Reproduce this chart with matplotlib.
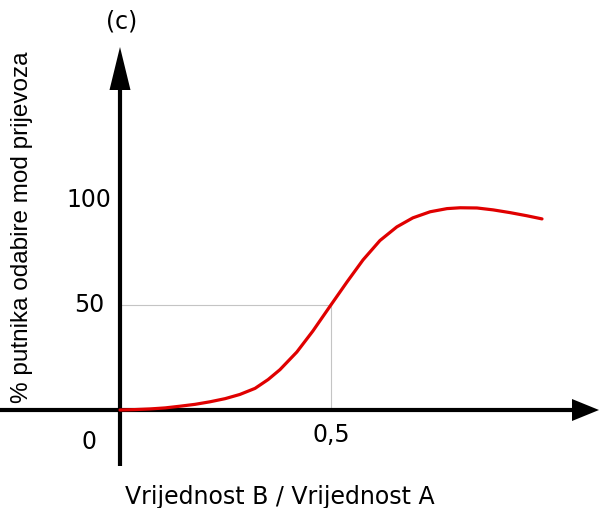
import numpy as np
import matplotlib
matplotlib.use("Agg")
import matplotlib.pyplot as plt
from matplotlib.transforms import Affine2D

# podaci ocitani sa slike (omjer B/A, % putnika)
omjer = [0.0, 0.036, 0.071, 0.107, 0.142, 0.178, 0.213, 0.249, 0.284, 0.320,
         0.351, 0.379, 0.419, 0.457, 0.498, 0.538, 0.576, 0.616, 0.656, 0.694,
         0.735, 0.775, 0.806, 0.846, 0.884, 0.924, 0.964, 1.0]
postotak = [0, 0.2, 0.5, 1.0, 1.8, 2.7, 3.9, 5.4, 7.4, 10.3,
            14.5, 19.2, 27.6, 37.6, 49.5, 61.0, 71.5, 80.7, 87.2, 91.5,
            94.4, 95.9, 96.3, 96.2, 95.3, 94.0, 92.5, 91.0]
y_ticks = [0, 50, 100]
y_labels = ["0", "50", "100"]
x_tick = 0.5
x_tick_label = "0,5"

W, H = 600, 508
fig = plt.figure(figsize=(6, 5.08), dpi=100)
ax = fig.add_axes([0, 0, 1, 1])
# 0 na pikselu (120, 410); 0,5 -> 422 px po jedinici, 50 -> 105 px
x0, y0, sx, sy = 120, 410, 422, 2.1
ax.set_xlim(-x0 / sx, (W - x0) / sx)
ax.set_ylim(-(H - y0) / sy, y0 / sy)
ax.axis("off")

# piksel koordinate za osi i tekst
pix = Affine2D().scale(1 / W, -1 / H).translate(0, 1) + fig.transFigure

# pomocne sive linije
ax.plot([0, x_tick], [50, 50], color="#c4c4c4", lw=0.8, zorder=1)
ax.plot([x_tick, x_tick], [0, 50], color="#c4c4c4", lw=0.8, zorder=1)

# osi sa strelicama
ax.plot([0, 573], [y0, y0], color="black", lw=3, transform=pix, solid_capstyle="butt")
ax.plot([x0, x0], [466, 89], color="black", lw=3, transform=pix, solid_capstyle="butt")
ax.fill([572, 599, 572], [399, y0, 421], color="black", transform=pix, lw=0)
ax.fill([x0 - 10.5, x0, x0 + 10.5], [90, 47, 90], color="black", transform=pix, lw=0)

# krivulja
ax.plot(omjer, postotak, color="#e00000", lw=2.3, solid_joinstyle="round",
        solid_capstyle="round", zorder=3)

fs = 17
for v, lab in zip(y_ticks, y_labels):
    py = y0 - v * sy + (32 if v == 0 else 0)
    ax.text(89, py, lab, transform=pix, ha="center", va="center", fontsize=fs,
            family="DejaVu Sans")
ax.text(x0 + x_tick * sx, 435, x_tick_label, transform=pix, ha="center", va="center",
        fontsize=fs, family="DejaVu Sans")
ax.text(122, 21, "(c)", transform=pix, ha="center", va="center", fontsize=fs,
        family="DejaVu Sans")
ax.text(280, 497, "Vrijednost B / Vrijednost A", transform=pix, ha="center",
        va="center", fontsize=fs, family="DejaVu Sans")
ax.text(22, 227, "% putnika odabire mod prijevoza", transform=pix, ha="center",
        va="center", rotation=90, fontsize=17.5, family="Liberation Sans")

fig.savefig("out.png", dpi=100)
